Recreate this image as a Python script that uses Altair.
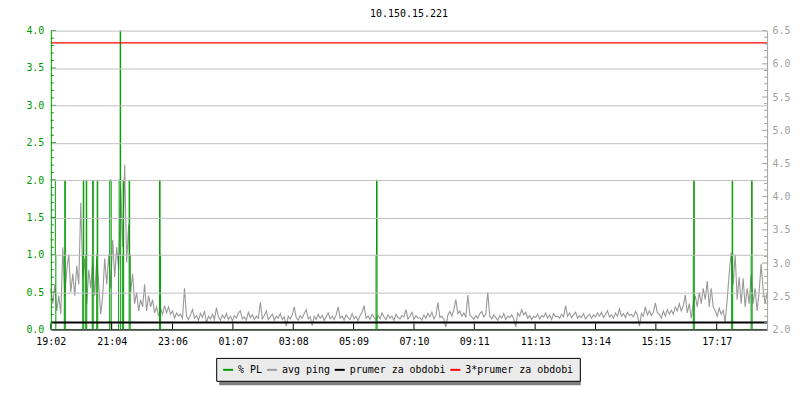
import altair as alt
import pandas as pd

TITLE = "10.150.15.221"
FONT = "DejaVu Sans Mono"
STEP_MIN = 4
X_END = 1436

# avg ping samples (right axis units), one every 4 minutes from 19:02
ping_a = [2.62, 2.39, 2.68, 2.28, 2.51, 2.23, 3.24, 2.51, 2.90, 3.13,
          2.56, 2.84, 2.51, 2.96, 2.68, 3.91, 2.79, 3.07, 2.39, 2.90,
          2.62, 3.01, 2.51, 3.07, 2.68, 2.23, 2.51, 3.07, 2.68, 3.13,
          2.62, 3.35, 2.79, 3.24, 2.90]
ping_b = [4.14, 3.24, 4.48, 3.01, 3.58, 2.56, 2.84, 2.39, 2.56, 2.28,
          2.45, 2.34, 2.68, 2.28, 2.51, 2.34, 2.45, 2.25, 2.34, 2.20,
          2.32, 2.23, 2.36, 2.25, 2.34, 2.23, 2.28, 2.17, 2.25, 2.20,
          2.23, 2.17, 2.62]
ping_c = [2.20, 2.15, 2.22, 2.30, 2.17, 2.21, 2.14, 2.24, 2.18, 2.28,
          2.10, 2.20, 2.16, 2.23, 2.15, 2.33, 2.19, 2.14, 2.22, 2.17,
          2.24, 2.15, 2.20, 2.13, 2.21, 2.17, 2.25, 2.28, 2.16, 2.19,
          2.14, 2.26, 2.18, 2.22, 2.15, 2.20, 2.17, 2.41, 2.16, 2.21,
          2.28, 2.15, 2.19, 2.23, 2.14, 2.20, 2.17, 2.24, 2.15, 2.19,
          2.05, 2.20, 2.16, 2.22, 2.34, 2.18, 2.14, 2.21, 2.17, 2.24,
          2.30, 2.16, 2.19, 2.06, 2.20, 2.15, 2.23, 2.17, 2.21, 2.14,
          2.19, 2.25, 2.16, 2.20, 2.15, 2.22, 2.34, 2.17, 2.20, 2.14,
          2.22, 2.18, 2.15, 2.24, 2.16, 2.20, 2.13, 2.21, 2.26, 2.36,
          2.17, 2.20, 2.15, 2.23, 2.18, 2.14, 2.21, 2.16, 2.25, 2.19,
          2.15, 2.22, 2.17, 2.20, 2.14, 2.23, 2.18, 2.16, 2.21, 2.19,
          2.30, 2.16, 2.20, 2.26, 2.15, 2.21, 2.17]
ping_d = [2.18, 2.14, 2.22, 2.17, 2.24, 2.19, 2.26, 2.16, 2.21, 2.41,
          2.18, 2.20, 2.15, 2.035, 2.22, 2.27, 2.20, 2.30, 2.45, 2.24,
          2.28, 2.20, 2.25, 2.18, 2.52, 2.22, 2.19, 2.15, 2.21, 2.17,
          2.24, 2.27, 2.19, 2.23, 2.56, 2.20, 2.16, 2.22, 2.18, 2.14,
          2.21, 2.17, 2.24, 2.15, 2.20, 2.18, 2.22, 2.16, 2.04, 2.25,
          2.20, 2.30, 2.22, 2.26, 2.17, 2.21, 2.15, 2.20, 2.18, 2.23,
          2.16, 2.21, 2.19, 2.25, 2.17, 2.22, 2.15, 2.24, 2.19, 2.20,
          2.17, 2.23, 2.19, 2.36, 2.20, 2.25, 2.18, 2.22, 2.26, 2.17,
          2.21, 2.18, 2.24, 2.16, 2.20, 2.23, 2.17, 2.22, 2.19, 2.25,
          2.20, 2.26, 2.18, 2.23, 2.28, 2.19, 2.22, 2.17, 2.25, 2.20,
          2.31, 2.20, 2.24, 2.18, 2.26, 2.21, 2.23, 2.19, 2.27, 2.22,
          2.05, 2.24, 2.20, 2.34, 2.22, 2.28, 2.21, 2.26, 2.40, 2.25]
ping_e = [2.23, 2.17, 2.28, 2.20, 2.30, 2.23, 2.29, 2.23, 2.34, 2.28,
          2.39, 2.28, 2.36, 2.52, 2.25, 2.39, 2.17, 2.39, 2.51, 2.34,
          2.56, 2.39, 2.62, 2.45, 2.73, 2.34, 2.62, 2.34, 2.28, 2.20,
          2.32, 2.23, 2.29, 2.11, 2.45, 2.84, 3.16, 2.68, 3.13, 2.45,
          2.79, 2.39, 2.77, 2.34, 2.62, 2.39, 2.82, 2.39, 2.62, 2.28,
          2.56, 2.99, 2.60, 2.39, 2.56]
ping_values = ping_a + ping_b + ping_c + ping_d + ping_e
ping_minutes = [i * STEP_MIN for i in range(len(ping_values))]

# % packet loss samples (left axis), held until the next sample
pl_minutes = [0, 9, 10, 27, 28, 29, 64, 65, 66, 70, 71, 72, 83, 84, 85,
              92, 93, 94, 118, 121, 136, 137, 139, 140, 144, 145, 146,
              157, 158, 159, 218, 219, 220, 652, 653, 654,
              1288, 1289, 1290, 1365, 1366, 1367, 1404, 1405, 1406, 1436]
pl_values = [2, 1, 0, 1, 2, 0, 1, 2, 0, 1, 2, 0, 1, 2, 0,
             1, 2, 0, 2, 0, 1, 2, 4, 0, 1, 2, 0,
             2, 1, 0, 2, 1, 0, 1, 2, 0,
             1, 2, 0, 1, 2, 0, 1, 2, 0, 0]

mean_ping = 2.105

x_tick_minutes = [0, 122, 244, 365, 486, 607, 728, 849, 971, 1092, 1213, 1335]
x_tick_labels = ["19:02", "21:04", "23:06", "01:07", "03:08", "05:09",
                 "07:10", "09:11", "11:13", "13:14", "15:15", "17:17"]

left_major = [i * 0.5 for i in range(9)]
left_minor = [round(i * 0.1, 1) for i in range(41) if i % 5 != 0]
right_major = [2.0 + i * 0.5 for i in range(10)]
right_minor = [round(2.0 + i * 0.1, 1) for i in range(46) if i % 5 != 0]

series_names = ["% PL", "avg ping", "prumer za obdobi", "3*prumer za obdobi"]
series_colors = ["#009900", "#999999", "#000000", "#ff0000"]

GREEN = "#009900"
GRAY = "#a0a0a0"
W, H = 719, 300

ping_df = pd.DataFrame({"minute": ping_minutes, "ping": ping_values})
pl_df = pd.DataFrame({"minute": pl_minutes, "pl": pl_values})
mean_df = pd.DataFrame({"mean": [mean_ping]})

x_scale = alt.Scale(domain=[0, X_END], nice=False, zero=False)
label_expr = ("[" + ",".join(f"'{l}'" for l in x_tick_labels) + "][indexof(["
              + ",".join(str(m) for m in x_tick_minutes) + "], datum.value)]")
x_axis = alt.Axis(values=x_tick_minutes, labelExpr=label_expr, ticks=False,
                  grid=False, title=None, domainColor="#000000", labelColor="#000000",
                  labelFont=FONT, labelFontSize=10, labelPadding=7, zindex=1,
                  labelFlush=False, labelOverlap=False)
X = alt.X("minute:Q", scale=x_scale, axis=x_axis)

left_scale = alt.Scale(domain=[0, 4], nice=False, zero=False)
right_scale = alt.Scale(domain=[2.0, 6.5], nice=False, zero=False)

color_scale = alt.Scale(domain=series_names, range=series_colors)
legend = alt.Legend(orient="none", legendX=166, legendY=328.5, direction="horizontal",
                    columns=4, title=None, symbolType="stroke", symbolSize=100,
                    symbolStrokeWidth=2, labelFont=FONT, labelFontSize=10,
                    labelColor="#000000", fillColor="#ebebeb", strokeColor="#000000",
                    padding=6, columnPadding=0, labelOffset=4, zindex=2)
COLOR = alt.Color("series:N", scale=color_scale, legend=legend)


def tag(chart, name):
    return chart.transform_calculate(series=f"'{name}'")


ping_layer = tag(alt.Chart(ping_df), "avg ping").mark_line(
    strokeWidth=1.1, interpolate="linear").encode(
    x=X,
    y=alt.Y("ping:Q", scale=right_scale,
            axis=alt.Axis(orient="right", values=right_major, format=".1f", ticks=False,
                          grid=False, title=None, domainColor=GRAY, labelColor=GRAY,
                          labelFont=FONT, labelFontSize=10, labelPadding=5, zindex=1)),
    color=COLOR,
)

pl_layer = tag(alt.Chart(pl_df), "% PL").mark_line(
    strokeWidth=1, interpolate="step-after").encode(
    x=X,
    y=alt.Y("pl:Q", scale=left_scale,
            axis=alt.Axis(orient="left", values=left_major, format=".1f", ticks=False,
                          grid=True, gridColor="#c0c0c0", title=None, domainColor=GREEN,
                          labelColor=GREEN, labelFont=FONT, labelFontSize=10,
                          labelPadding=7, zindex=1)),
    color=COLOR,
)

mean_layer = tag(alt.Chart(mean_df), "prumer za obdobi").mark_rule(strokeWidth=2).encode(
    y=alt.Y("mean:Q", scale=right_scale, axis=None),
    color=COLOR,
)

mean3_layer = tag(alt.Chart(mean_df), "3*prumer za obdobi").transform_calculate(
    mean3="3 * datum.mean"
).mark_rule(strokeWidth=1.2).encode(
    y=alt.Y("mean3:Q", scale=right_scale, axis=None),
    color=COLOR,
)

left_major_ticks = alt.Chart(pd.DataFrame({"t": left_major})).mark_rule(
    color=GREEN, strokeWidth=1).encode(
    y=alt.Y("t:Q", scale=left_scale, axis=None), x=alt.value(0), x2=alt.value(5))
left_minor_ticks = alt.Chart(pd.DataFrame({"t": left_minor})).mark_rule(
    color=GREEN, strokeWidth=1).encode(
    y=alt.Y("t:Q", scale=left_scale, axis=None), x=alt.value(0), x2=alt.value(3))
right_major_ticks = alt.Chart(pd.DataFrame({"t": right_major})).mark_rule(
    color=GRAY, strokeWidth=1).encode(
    y=alt.Y("t:Q", scale=right_scale, axis=None), x=alt.value(W - 5), x2=alt.value(W))
right_minor_ticks = alt.Chart(pd.DataFrame({"t": right_minor})).mark_rule(
    color=GRAY, strokeWidth=1).encode(
    y=alt.Y("t:Q", scale=right_scale, axis=None), x=alt.value(W - 3), x2=alt.value(W))
x_ticks = alt.Chart(pd.DataFrame({"minute": x_tick_minutes})).mark_rule(
    color="#000000", strokeWidth=1).encode(
    x=X, y=alt.value(H - 6), y2=alt.value(H))

shadow = alt.Chart(pd.DataFrame({"a": [0]})).mark_rect(color="#7f7f7f").encode(
    x=alt.value(169), x2=alt.value(532), y=alt.value(331), y2=alt.value(356))

chart = alt.layer(
    ping_layer, pl_layer, mean_layer, mean3_layer,
    left_major_ticks, left_minor_ticks, right_major_ticks, right_minor_ticks,
    x_ticks, shadow,
).resolve_scale(y="independent").properties(
    width=W, height=H,
    title=alt.TitleParams(TITLE, font=FONT, fontSize=10, fontWeight="normal",
                          anchor="middle", offset=7, color="#000000"),
    autosize=alt.AutoSizeParams(type="none"),
    padding={"left": 43, "top": 22, "right": 25, "bottom": 62},
    background="#ffffff",
).configure_view(strokeWidth=0)

chart.save("out.html", embed_options={"renderer": "svg", "actions": False})
